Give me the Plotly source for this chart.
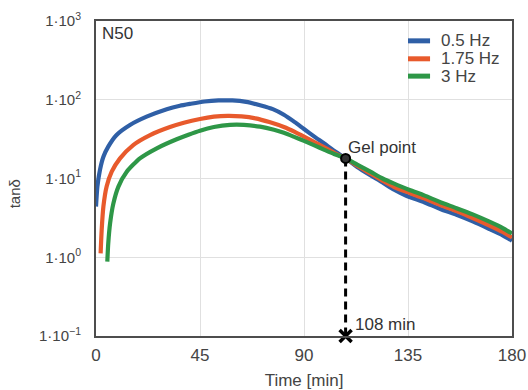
import math
import plotly.graph_objects as go

# tan(delta) vs curing time for sample N50 at three frequencies
t_05 = [0, 0.6, 1.7, 3.2, 5.3, 8.9, 14.7, 21.9, 30.6, 36.3, 41, 47, 53, 59, 65, 71, 76.5, 81.3,
        86, 90, 94.5, 98.6, 103, 108, 113, 118.7, 124, 129, 134.5, 142, 149, 156, 163, 170, 176, 180]
v_05 = [4.4, 7.9, 12.8, 18.9, 25.4, 35.7, 47.8, 61, 76, 84, 89, 95, 98, 98, 94, 85, 76, 64.5,
        52, 42.5, 34, 28, 22.5, 18, 14, 11, 8.9, 7.2, 6.0, 5.0, 4.1, 3.45, 2.85, 2.3, 1.9, 1.62]

t_175 = [2.0, 2.45, 3.2, 4.6, 6.8, 10.4, 16.1, 23.4, 32, 38, 45, 51, 57, 63, 69, 75, 81.3, 86,
         90, 94.5, 98.6, 103, 108, 113, 118.7, 124, 129, 136, 142, 149, 156, 163, 170, 176, 180]
v_175 = [1.12, 2.2, 4.4, 7.9, 12.2, 18, 26.6, 35.6, 45, 51, 57, 61, 62.5, 61.5, 58, 52, 45, 39,
         34, 29, 25, 21.2, 18, 14.5, 11.6, 9.4, 7.8, 6.5, 5.6, 4.6, 3.85, 3.15, 2.55, 2.1, 1.78]

t_3 = [4.9, 5.3, 6.1, 7.5, 9.7, 13.3, 19, 26.3, 34.9, 40, 45, 51, 58, 64, 71, 77, 81.3, 86,
       90, 94.5, 98.6, 103, 108, 113, 118.7, 124, 129, 136, 142, 149, 156, 163, 170, 176, 180]
v_3 = [0.88, 1.5, 2.7, 4.8, 7.9, 12.2, 18, 24.2, 31.5, 36, 40.5, 45, 48, 48, 45.5, 41.5, 38, 33.5,
       30, 26.3, 23.3, 20.5, 18, 15, 12.2, 10, 8.6, 7.1, 6.1, 5.0, 4.2, 3.5, 2.85, 2.35, 2.0]

series_names = ["0.5 Hz", "1.75 Hz", "3 Hz"]
series_colors = ["#2f5fa6", "#e85a2c", "#2e9747"]

gel_time = 108
gel_value = 18
y_floor = 0.1

x_ticks = [0, 45, 90, 135, 180]
y_ticks = [0.1, 1, 10, 100, 1000]
y_ticktext = ["1·10<sup>−1</sup>", "1·10<sup>0</sup>", "1·10<sup>1</sup>",
              "1·10<sup>2</sup>", "1·10<sup>3</sup>"]

FONT = "Liberation Sans, Arial, sans-serif"
TXT = "#444444"

fig = go.Figure()
for t, v, name, col in zip([t_05, t_175, t_3], [v_05, v_175, v_3], series_names, series_colors):
    fig.add_trace(go.Scatter(x=t, y=v, mode="lines", name=name, showlegend=False,
                             line=dict(color=col, width=4.2, shape="spline", smoothing=0.6)))

# dashed drop line from the gel point to the time axis
fig.add_trace(go.Scatter(x=[gel_time, gel_time], y=[gel_value, y_floor], mode="lines",
                         line=dict(color="black", width=3, dash="8px,5px"),
                         showlegend=False, hoverinfo="skip", cliponaxis=False))
fig.add_trace(go.Scatter(x=[gel_time], y=[gel_value], mode="markers", showlegend=False,
                         marker=dict(symbol="circle", size=9, color="#333333",
                                     line=dict(color="black", width=2))))
fig.add_trace(go.Scatter(x=[gel_time], y=[y_floor], mode="markers", showlegend=False,
                         cliponaxis=False,
                         marker=dict(symbol="x-thin", size=12, color="black",
                                     line=dict(color="black", width=3.5))))

# annotations on a log axis take log10 positions
fig.add_annotation(x=gel_time, y=math.log10(gel_value), xref="x", yref="y", text="Gel point",
                   showarrow=False, xanchor="left", yanchor="middle", xshift=0, yshift=11,
                   font=dict(family=FONT, size=17, color="#333333"))
fig.add_annotation(x=gel_time, y=math.log10(y_floor), xref="x", yref="y", text=f"{gel_time} min",
                   showarrow=False, xanchor="left", yanchor="middle", xshift=7, yshift=12,
                   font=dict(family=FONT, size=17, color="#333333"))
fig.add_annotation(x=0.01, y=0.998, xref="paper", yref="paper", text="N50",
                   showarrow=False, xanchor="left", yanchor="top",
                   font=dict(family=FONT, size=17, color="#333333"))
fig.add_annotation(x=-0.197, y=0.45, xref="paper", yref="paper", text="tanδ",
                   showarrow=False, textangle=-90, xanchor="center", yanchor="middle",
                   font=dict(family=FONT, size=15, color=TXT))

# compact legend: short swatches, labels set as one tightly spaced text block
leg_x0, leg_x1, leg_tx = 0.75, 0.803, 0.828
leg_rows = [0.937, 0.880, 0.825]
for col, ry in zip(series_colors, leg_rows):
    fig.add_shape(type="line", xref="paper", yref="paper", x0=leg_x0, x1=leg_x1, y0=ry, y1=ry,
                  line=dict(color=col, width=5))
leg_text = "<br>".join(f"<span style='font-size:17px'>{n}</span>" for n in series_names)
fig.add_annotation(x=leg_tx, y=leg_rows[1], xref="paper", yref="paper", text=leg_text,
                   showarrow=False, xanchor="left", yanchor="middle", align="left",
                   borderpad=0, font=dict(family=FONT, size=13.8, color=TXT))

fig.update_layout(
    width=528, height=390,
    margin=dict(l=96, r=16, t=21, b=54, autoexpand=False),
    paper_bgcolor="white", plot_bgcolor="white",
    font=dict(family=FONT, size=16, color=TXT),
    showlegend=False,
    xaxis=dict(range=[0, 180], tickvals=x_ticks, showgrid=True, gridcolor="#e0e0e0",
               gridwidth=1, zeroline=False, showline=True, linecolor="#4d4d4d",
               linewidth=2, mirror=True, ticks="", ticklabelstandoff=3, automargin=False,
               tickfont=dict(family=FONT, size=17, color=TXT),
               title=dict(text="Time [min]", standoff=12,
                          font=dict(family=FONT, size=17, color=TXT))),
    yaxis=dict(type="log", range=[-1, 3], tickvals=y_ticks, ticktext=y_ticktext,
               showgrid=True, gridcolor="#e0e0e0", gridwidth=1, zeroline=False,
               showline=True, linecolor="#4d4d4d", linewidth=2, mirror=True, ticks="",
               ticklabelstandoff=10, automargin=False,
               tickfont=dict(family=FONT, size=15, color=TXT)),
)

fig.write_html("out.html")
